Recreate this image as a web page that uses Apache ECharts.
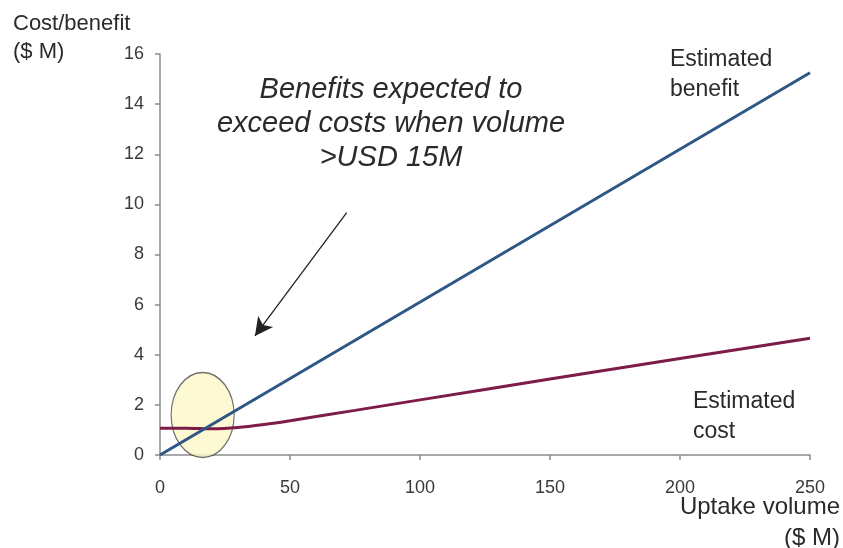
<!DOCTYPE html>
<html>
<head>
<meta charset="utf-8">
<script src="https://cdn.jsdelivr.net/npm/echarts@6/dist/echarts.min.js"></script>
<style>html,body{margin:0;padding:0;background:#fff;}#c{width:843px;height:548px;}</style>
</head>
<body>
<div id="c"></div>
<script>
// Data
const benefitX = [0, 250];
const benefitY = [0, 15.25];
const costX = [0, 10, 20, 30, 40, 50, 75, 100, 150, 200, 250];
const costY = [1.07, 1.07, 1.05, 1.1, 1.22, 1.37, 1.78, 2.2, 3.03, 3.85, 4.66];
const breakEven = [16.4, 1.6];          // highlighted crossing region
const arrowFrom = [71.8, 9.67];
const arrowTo = [36.5, 4.75];
const xTicks = { min: 0, max: 250, step: 50 };
const yTicks = { min: 0, max: 16, step: 2 };

const FONT = 'Liberation Sans, Arial, sans-serif';
const chart = echarts.init(document.getElementById('c'), null, { renderer: 'canvas' });

const zip = (xs, ys) => xs.map((x, i) => [x, ys[i]]);

chart.setOption({
  animation: false,
  backgroundColor: '#fff',
  grid: { left: 160, right: 33, top: 54, bottom: 93, containLabel: false },
  xAxis: {
    type: 'value', min: xTicks.min, max: xTicks.max, interval: xTicks.step,
    axisLine: { show: true, lineStyle: { color: '#8c8c8c', width: 1.5 } },
    axisTick: { show: true, length: 5, lineStyle: { color: '#8c8c8c', width: 1.5 } },
    axisLabel: { fontSize: 18, color: '#3a3a3a', fontFamily: FONT, margin: 24 },
    splitLine: { show: false }
  },
  yAxis: {
    type: 'value', min: yTicks.min, max: yTicks.max, interval: yTicks.step,
    axisLine: { show: true, lineStyle: { color: '#8c8c8c', width: 1.5 } },
    axisTick: { show: true, length: 5, lineStyle: { color: '#8c8c8c', width: 1.5 } },
    axisLabel: { fontSize: 18, color: '#3a3a3a', fontFamily: FONT, margin: 16 },
    splitLine: { show: false }
  },
  series: [
    {
      type: 'scatter', z: 1,
      data: [breakEven],
      symbol: 'circle', symbolSize: [63, 85],
      itemStyle: { color: '#fbf7c8', borderColor: '#4a4a4a', borderWidth: 1.3 },
      silent: true,
      markLine: {
        silent: true, symbol: ['none', 'arrow'], symbolSize: [14, 18],
        label: { show: false },
        lineStyle: { color: '#222', width: 1.3, type: 'solid' },
        data: [[{ coord: arrowFrom }, { coord: arrowTo }]]
      }
    },
    {
      name: 'Estimated cost', type: 'line', z: 3,
      data: zip(costX, costY), showSymbol: false, smooth: 0.3,
      lineStyle: { color: '#7d1c48', width: 3 }
    },
    {
      name: 'Estimated benefit', type: 'line', z: 4,
      data: zip(benefitX, benefitY), showSymbol: false,
      lineStyle: { color: '#2f5785', width: 3 }
    }
  ],
  graphic: [
    { type: 'text', left: 13, top: 10,
      style: { text: 'Cost/benefit\n($ M)', font: '22px ' + FONT, fill: '#2a2a2a', lineHeight: 28 } },
    { type: 'text', x: 391, y: 124,
      style: { text: 'Benefits expected to\nexceed costs when volume\n>USD 15M', font: 'italic 29px ' + FONT,
        fill: '#2a2a2a', align: 'center', verticalAlign: 'middle', lineHeight: 34 } },
    { type: 'text', x: 670, y: 75,
      style: { text: 'Estimated\nbenefit', font: '23px ' + FONT, fill: '#2a2a2a', verticalAlign: 'middle', lineHeight: 30 } },
    { type: 'text', x: 693, y: 417,
      style: { text: 'Estimated\ncost', font: '23px ' + FONT, fill: '#2a2a2a', verticalAlign: 'middle', lineHeight: 30 } },
    { type: 'text', x: 840, y: 523,
      style: { text: 'Uptake volume\n($ M)', font: '24px ' + FONT, fill: '#2a2a2a', align: 'right', verticalAlign: 'middle', lineHeight: 31 } }
  ]
});
</script>
</body>
</html>
